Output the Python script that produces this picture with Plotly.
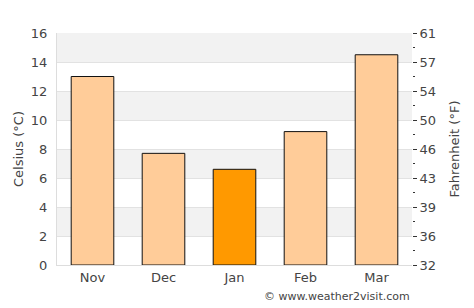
import plotly.graph_objects as go

months = ["Nov", "Dec", "Jan", "Feb", "Mar"]
celsius = [13.0, 7.7, 6.6, 9.2, 14.5]
highlight = "Jan"
c_ticks = [0, 2, 4, 6, 8, 10, 12, 14, 16]
f_ticks = [32 + c * 9 / 5 for c in c_ticks]
f_labels = [str(round(f)) for f in f_ticks]

colors = ["#FF9900" if m == highlight else "#FFCC99" for m in months]

fig = go.Figure()
fig.add_trace(go.Bar(
    x=months, y=celsius, marker=dict(color=colors, line=dict(color="#111111", width=1)),
    width=0.6, hoverinfo="skip", showlegend=False,
))
fig.add_trace(go.Scatter(
    x=months, y=[32 + c * 9 / 5 for c in celsius], yaxis="y2", mode="markers",
    marker=dict(opacity=0), hoverinfo="skip", showlegend=False,
))

shapes = []
band_starts = [2, 6, 10, 14]
for lo in band_starts:
    shapes.append(dict(type="rect", xref="paper", yref="y", x0=0, x1=1, y0=lo, y1=lo + 2,
                       fillcolor="#F2F2F2", line=dict(width=0), layer="below"))

font = "DejaVu Sans, sans-serif"
fig.update_layout(
    width=474, height=308,
    margin=dict(l=57, r=62, t=33, b=43),
    paper_bgcolor="white", plot_bgcolor="white",
    font=dict(family=font, color="#444444", size=13),
    shapes=shapes,
    xaxis=dict(showgrid=False, showline=True, linecolor="#DDDDDD", linewidth=1,
               tickfont=dict(size=13, color="#444444"), ticks="", mirror=False),
    yaxis=dict(range=[0, 16], tickvals=c_ticks, showgrid=True, gridcolor="#E2E2E2",
               gridwidth=1, zeroline=False, showline=True, linecolor="#DDDDDD",
               title=dict(text="Celsius (°C)", font=dict(size=13, color="#444444"), standoff=4),
               tickfont=dict(size=13, color="#444444"), ticks="", ticklabelstandoff=6),
    yaxis2=dict(range=[32, 60.8], overlaying="y", side="right", tickvals=f_ticks,
                ticktext=f_labels, showgrid=False, zeroline=False, showline=False,
                ticks="outside", ticklen=4, tickcolor="#333333", tickwidth=1,
                minor=dict(ticks="outside", ticklen=2, tickcolor="#333333", dtick=1.8, tick0=32),
                title=dict(text="Fahrenheit (°F)", font=dict(size=13, color="#444444"), standoff=14),
                tickfont=dict(size=13, color="#444444")),
    annotations=[dict(text="© www.weather2visit.com", xref="paper", yref="paper",
                      x=1, y=0, yshift=-40, xanchor="right", yanchor="bottom",
                      showarrow=False, font=dict(size=11, color="#444444"))],
)

fig.write_html("out.html")
